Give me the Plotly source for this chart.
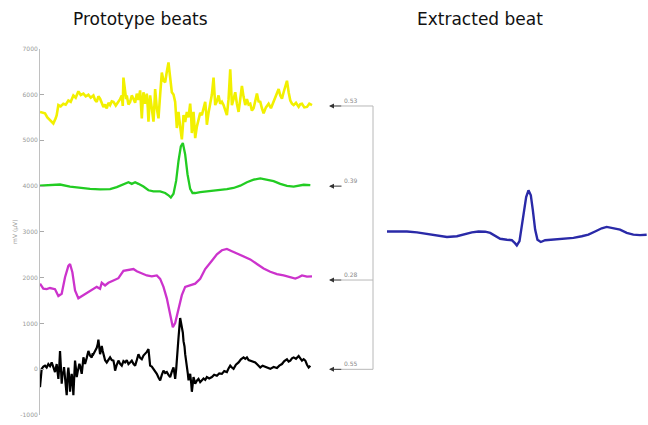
import numpy as np
import plotly.graph_objects as go

# ---- Prototype beats: sample time (ms) and amplitude ----
yellow_t = [0, 8, 15, 22, 30, 40, 47, 50, 55, 62, 70, 77, 85, 92, 100, 107, 115, 122, 130, 137, 145,
            152, 160, 165, 170, 175, 180, 185, 190, 195, 200, 205, 210, 215, 220, 227, 235, 240, 245,
            248, 250, 253, 255, 258, 260, 265, 270, 275, 280, 285, 290, 295, 300, 303, 305, 308, 310,
            315, 320, 323, 325, 328, 330, 335, 340, 343, 345, 350, 355, 360, 365, 370, 375, 380, 385,
            388, 390, 395, 400, 405, 408, 410, 413, 415, 420, 425, 428, 430, 435, 440, 445, 450, 453,
            455, 458, 460, 463, 465, 470, 475, 480, 485, 490, 495, 498, 500, 505, 510, 515, 520, 523,
            525, 530, 535, 540, 545, 550, 555, 560, 565, 570, 573, 575, 580, 585, 590, 595, 600, 605,
            610, 615, 620, 625, 630, 635, 640, 645, 650, 655, 660, 665, 670, 677, 685, 692, 700, 707,
            715, 720, 725, 730, 735, 740, 745, 750, 755, 760, 767, 775, 780, 785, 792, 800, 807, 815]
yellow_v = [5620, 5600, 5590, 5500, 5440, 5370, 5480, 5550, 5770, 5740, 5800, 5780, 5870, 5840, 5980,
            5930, 6070, 5990, 6020, 5960, 5995, 5930, 5980, 5880, 5840, 5960, 5910, 5800, 5730, 5780,
            5695, 5820, 5770, 5850, 5840, 5760, 5840, 5900, 5980, 5750, 6370, 6200, 6120, 5900, 5980,
            5780, 5840, 5980, 5910, 5820, 6020, 5880, 6090, 5700, 5480, 5900, 6050, 5800, 6020, 5700,
            5410, 5800, 5980, 5700, 5410, 5800, 6120, 5700, 5480, 6000, 6480, 6300, 6270, 6500, 6700,
            6500, 6370, 6050, 6000, 5840, 5500, 5270, 5450, 5620, 5300, 5020, 5300, 5550, 5400, 5620,
            5500, 5800, 5500, 5160, 5400, 5620, 5300, 5050, 5300, 5480, 5600, 5550, 5700, 5840, 5600,
            5340, 5600, 5840, 6000, 6370, 6000, 5770, 5850, 5980, 5800, 5840, 5770, 5650, 5550, 5900,
            6550, 6100, 5770, 5900, 6050, 5800, 5620, 5900, 6190, 5950, 5770, 5900, 5780, 5800, 5650,
            5700, 5900, 6020, 5850, 5840, 5700, 5590, 5720, 5800, 5700, 5840, 5950, 6120, 5980, 5910,
            6050, 6190, 6300, 6050, 5870, 5800, 5770, 5820, 5730, 5790, 5800, 5720, 5730, 5800, 5770]

green_t = [0, 30, 60, 90, 120, 150, 180, 210, 230, 250, 265, 275, 285, 295, 310, 325, 340, 360, 375,
           385, 392, 400, 408, 415, 422, 428, 435, 442, 450, 457, 465, 480, 500, 530, 560, 580, 600,
           620, 640, 660, 680, 700, 720, 740, 760, 775, 790, 810]
green_v = [4010, 4030, 4035, 3990, 3960, 3940, 3930, 3935, 3980, 4035, 4085, 4050, 4085, 4050, 3990,
           3910, 3885, 3885, 3850, 3800, 3750, 3835, 4120, 4550, 4870, 4940, 4690, 4260, 3940, 3850,
           3850, 3870, 3885, 3905, 3935, 3960, 4010, 4085, 4140, 4170, 4140, 4110, 4050, 4005, 3990,
           4010, 4030, 4020]

magenta_t = [0, 10, 20, 30, 45, 55, 65, 75, 85, 90, 97, 105, 115, 130, 145, 160, 170, 180, 185, 195,
             205, 220, 235, 250, 265, 280, 290, 305, 320, 335, 350, 360, 370, 380, 390, 398, 405, 415,
             425, 435, 450, 465, 480, 495, 515, 530, 545, 560, 575, 590, 610, 630, 650, 670, 690, 710,
             730, 750, 765, 775, 785, 800, 815]
magenta_v = [1870, 1760, 1750, 1775, 1750, 1600, 1650, 2010, 2260, 2300, 2120, 1725, 1550, 1620, 1700,
             1760, 1800, 1760, 1890, 1830, 1890, 1940, 1990, 2150, 2175, 2190, 2140, 2100, 2050, 2030,
             2050, 1975, 1800, 1550, 1220, 920, 1010, 1330, 1620, 1800, 1830, 1870, 1975, 2190, 2370,
             2510, 2600, 2630, 2580, 2530, 2480, 2400, 2300, 2200, 2130, 2080, 2050, 2010, 1980, 2010,
             2050, 2025, 2030]

black_t = [0, 3, 5, 10, 15, 20, 25, 30, 35, 40, 45, 50, 55, 58, 60, 63, 65, 68, 70, 72, 75, 78, 80,
           83, 85, 88, 90, 93, 95, 98, 100, 103, 105, 108, 110, 113, 115, 118, 120, 123, 125, 128, 130,
           133, 135, 140, 145, 150, 155, 158, 160, 165, 170, 173, 175, 178, 180, 183, 185, 188, 190,
           195, 200, 205, 210, 215, 220, 223, 225, 230, 235, 240, 245, 250, 255, 260, 265, 270, 275,
           280, 285, 290, 295, 300, 305, 310, 315, 320, 325, 328, 330, 335, 340, 345, 350, 355, 360,
           365, 370, 375, 380, 385, 390, 395, 400, 403, 405, 408, 410, 413, 415, 418, 420, 423, 425,
           428, 430, 433, 435, 438, 440, 443, 445, 448, 450, 453, 455, 458, 460, 463, 465, 470, 475,
           480, 485, 490, 495, 500, 507, 515, 522, 530, 537, 545, 552, 560, 565, 570, 575, 580, 587,
           595, 602, 610, 615, 620, 625, 630, 637, 645, 652, 660, 667, 675, 682, 690, 700, 710, 717,
           725, 732, 740, 745, 750, 755, 760, 767, 775, 780, 785, 790, 795, 800, 805, 810]
black_v = [-390, -200, 10, 60, 80, 40, 115, 70, 150, 50, -60, 115, -210, 100, 400, 0, -315, -50, -100,
           50, -170, -300, -565, -100, 40, -200, -490, -250, -100, -300, -565, -100, 190, 0, -170, -50,
           10, 120, 80, -30, -100, 100, 260, 180, 115, 250, 400, 300, 260, 350, 330, 400, 470, 550, 650,
           450, 330, 420, 510, 400, 330, 200, 150, 220, 260, 200, 190, 80, -30, 100, 190, 120, 80, 180,
           150, 200, 115, 150, 190, 120, 80, 200, 330, 250, 220, 300, 330, 380, 440, 250, 80, 60, 10,
           -50, -100, -180, -240, -120, -30, -80, -60, -120, -170, -50, 40, -100, -210, 0, 260, 500,
           690, 950, 1120, 1000, 940, 800, 615, 500, 330, 200, 40, -100, -240, -150, -100, -300, -490,
           -300, -170, -250, -315, -250, -210, -280, -240, -200, -230, -170, -200, -170, -120, -140,
           -90, -100, -40, -60, 20, 80, 40, 10, 100, 150, 220, 260, 230, 260, 200, 190, 170, 150, 100,
           40, 80, 60, 30, 10, 50, 30, 80, 115, 180, 220, 170, 190, 240, 260, 230, 290, 240, 190, 220,
           190, 100, 40, 80]

# ---- Extracted beat ----
blue_t = [0, 30, 60, 90, 120, 150, 180, 210, 235, 255, 275, 295, 310, 325, 340, 360, 375, 385, 390,
          398, 405, 412, 418, 425, 432, 438, 445, 452, 462, 475, 500, 530, 560, 585, 605, 625, 645,
          660, 680, 700, 720, 740, 760, 780]
blue_v = [3010, 3010, 3010, 2990, 2960, 2920, 2890, 2905, 2960, 2990, 3010, 3005, 2980, 2905, 2850,
          2830, 2820, 2750, 2705, 2800, 3120, 3480, 3760, 3910, 3800, 3480, 3050, 2830, 2780, 2820,
          2830, 2850, 2870, 2905, 2940, 3010, 3080, 3110, 3080, 3050, 2980, 2940, 2930, 2940]

# correlation of each prototype with the extracted beat, and the level its arrow points at
corr_labels = ["0.53", "0.39", "0.28", "0.55"]
corr_levels = [5750, 4000, 1950, 0]
bracketed = [True, False, True, True]

y_ticks = [-1000, 0, 1000, 2000, 3000, 4000, 5000, 6000, 7000]

W, H = 648, 425


def px(x):
    return x / W


y_dom = [1 - 418 / H, 1 - 45.5 / H]

fig = go.Figure()
for t, v, c, w in [(yellow_t, yellow_v, "#f2f000", 2.6),
                   (green_t, green_v, "#22cc22", 2.3),
                   (magenta_t, magenta_v, "#cc33cc", 2.3),
                   (black_t, black_v, "#000000", 2.2)]:
    fig.add_trace(go.Scatter(x=t, y=v, mode="lines", line=dict(color=c, width=w),
                             xaxis="x", yaxis="y", showlegend=False, hoverinfo="skip"))
fig.add_trace(go.Scatter(x=blue_t, y=blue_v, mode="lines", line=dict(color="#2a2aa8", width=2.4),
                         xaxis="x2", yaxis="y2", showlegend=False, hoverinfo="skip"))

# left axes: t=0 at px 40, t=815 at px 312
scale = (312 - 40) / 815
fig.update_layout(
    width=W, height=H, margin=dict(l=0, r=0, t=0, b=0),
    paper_bgcolor="white", plot_bgcolor="white",
    xaxis=dict(domain=[px(40), px(380)], range=[0, (380 - 40) / scale], visible=False),
    yaxis=dict(domain=y_dom, range=[-1000, 7000], tickvals=y_ticks,
               ticktext=[str(v) for v in y_ticks], ticks="inside", ticklen=4, tickcolor="#aaaaaa",
               showline=True, linecolor="#c0c0c0", linewidth=1, showgrid=False, zeroline=False,
               tickfont=dict(size=6, color="#999999", family="DejaVu Sans"), anchor="x"),
    xaxis2=dict(domain=[px(387), 1], range=[0, 784], visible=False, anchor="y2"),
    yaxis2=dict(domain=y_dom, range=[-1000, 7000], visible=False, anchor="x2"),
)

title_font = dict(size=17, color="#111111", family="DejaVu Sans")
ann = [
    dict(text="Prototype beats", x=px(140), y=1 - 15 / H, xref="paper", yref="paper",
         xanchor="center", yanchor="middle", showarrow=False, font=title_font),
    dict(text="Extracted beat", x=px(480), y=1 - 15 / H, xref="paper", yref="paper",
         xanchor="center", yanchor="middle", showarrow=False, font=title_font),
    dict(text="mV (µV)", x=px(15), y=3000, xref="paper", yref="y", textangle=-90,
         xanchor="center", yanchor="middle", showarrow=False,
         font=dict(size=6, color="#999999", family="DejaVu Sans")),
]
shapes = []
for lab, lev, br in zip(corr_labels, corr_levels, bracketed):
    ann.append(dict(x=px(329), y=lev, xref="paper", yref="y", text="", showarrow=True,
                    ax=14, ay=0, axref="pixel", ayref="pixel", arrowhead=2, arrowsize=1,
                    arrowwidth=1, arrowcolor="#333333"))
    ann.append(dict(text=lab, x=px(351), y=lev, xref="paper", yref="y", xanchor="center",
                    yanchor="bottom", showarrow=False,
                    font=dict(size=6, color="#888888", family="DejaVu Sans")))
    if br:
        shapes.append(dict(type="line", xref="paper", yref="y", x0=px(342), x1=px(373),
                           y0=lev, y1=lev, line=dict(color="#b8b8b8", width=1)))
shapes.append(dict(type="line", xref="paper", yref="y", x0=px(373), x1=px(373),
                   y0=min(corr_levels), y1=max(corr_levels), line=dict(color="#b8b8b8", width=1)))
fig.update_layout(annotations=ann, shapes=shapes)

fig.write_html("out.html")
